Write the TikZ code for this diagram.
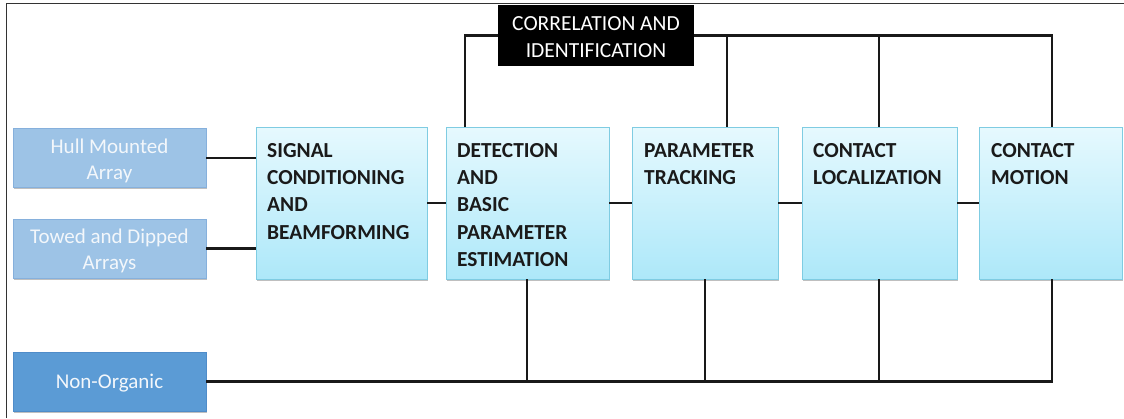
\documentclass[tikz,border=0pt]{standalone}
\usepackage{fontspec}
\setmainfont{Carlito}
\usetikzlibrary{shadows,calc}

\definecolor{srcfill}{HTML}{9DC3E6}
\definecolor{srcedge}{HTML}{86B0DC}
\definecolor{extfill}{HTML}{5B9BD5}
\definecolor{extedge}{HTML}{4F8CC9}
\definecolor{srcink}{HTML}{F3F7FB}
\definecolor{stagetop}{HTML}{E6F9FE}
\definecolor{stagebot}{HTML}{ADE8F9}
\definecolor{stageedge}{HTML}{7FCCE2}
\definecolor{stageink}{HTML}{1A1A1A}
\definecolor{framegray}{HTML}{333333}

\begin{document}
\begin{tikzpicture}[x=1pt,y=-1pt,
  boxshadow/.style={drop shadow={shadow xshift=1.2pt,shadow yshift=-1.8pt,opacity=0.25,fill=black}},
  srcbox/.style={draw=srcedge,fill=srcfill,line width=0.8pt,minimum width=193pt,
    minimum height=59pt,anchor=north west,outer sep=0pt,inner sep=0pt,boxshadow},
  extbox/.style={srcbox,draw=extedge,fill=extfill},
  srctext/.style={text=srcink,align=center,inner sep=0pt,
    font=\fontsize{21}{26}\selectfont},
  stagebox/.style={draw=stageedge,top color=stagetop,bottom color=stagebot,
    line width=0.8pt,minimum height=152pt,anchor=north west,outer sep=0pt,
    inner sep=0pt,boxshadow},
  stagetext/.style={anchor=north west,align=left,inner sep=0pt,text=stageink,
    font=\bfseries\fontsize{21.4}{27.3}\selectfont},
  hubbox/.style={fill=black,draw=black,minimum width=195pt,minimum height=60pt,
    anchor=north west,outer sep=0pt,inner sep=0pt},
  hubtext/.style={text=white,align=center,inner sep=0pt,
    font=\fontsize{21.5}{26.5}\selectfont},
  link/.style={line width=2.8pt,draw=black!90},
  frameline/.style={line width=1.3pt,draw=framegray}
]
\useasboundingbox (0,0) rectangle (1124,418);

% outer frame (top and left edges)
\draw[frameline] (6.5,418) -- (6.5,3.5) -- (1124,3.5);

% shared bus coordinates
\coordinate (tL) at (465,35.5);
\coordinate (tP) at (727,35.5);
\coordinate (tC) at (879,35.5);
\coordinate (tR) at (1052,35.5);
\coordinate (bD) at (527,381.5);
\coordinate (bP) at (705,381.5);
\coordinate (bC) at (879,381.5);
\coordinate (bR) at (1052,381.5);

% processing stages
\node[stagebox,minimum width=171pt] (sig) at (256,127) {};
\node[stagebox,minimum width=163pt] (det) at (446,127) {};
\node[stagebox,minimum width=146pt] (par) at (632,127) {};
\node[stagebox,minimum width=155pt] (loc) at (802,127) {};
\node[stagebox,minimum width=143pt] (mot) at (979,127) {};

\node[stagetext] (sigt) at ($(sig.north west)+(11,16)$) {SIGNAL\\CONDITIONING\\AND\\BEAMFORMING};
\node[stagetext] (dett) at ($(det.north west)+(11,16)$) {DETECTION\\AND\\BASIC\\PARAMETER\\ESTIMATION};
\node[stagetext] (part) at ($(par.north west)+(12,16)$) {PARAMETER\\TRACKING};
\node[stagetext] (loct) at ($(loc.north west)+(11,16)$) {CONTACT\\LOCALIZATION};
\node[stagetext] (mott) at ($(mot.north west)+(12,16)$) {CONTACT\\MOTION};

% sensor inputs
\node[srcbox] (hull) at (13,128.5) {};
\node[srcbox] (tow) at (13,219) {};
\node[extbox] (non) at (13,352.5) {};
\node[srctext] (hullt) at ($(hull.center)+(0,2.5)$) {Hull Mounted\\Array};
\node[srctext] (towt) at ($(tow.center)+(0,2.5)$) {Towed and Dipped\\Arrays};
\node[srctext] (nont) at ($(non.center)+(0,1.5)$) {Non-Organic};

% chain links
\draw[link] (hull.east) -- (sig.west |- hull.east);
\draw[link] (tow.east) -- (sig.west |- tow.east);
\draw[link] (sig.east) -- (det.west);
\draw[link] (det.east) -- (par.west);
\draw[link] (par.east) -- (loc.west);
\draw[link] (loc.east) -- (mot.west);

% upper bus to correlation
\draw[link] (det.north -| tL) -- (tL) -- (tR) -- (mot.north -| tR);
\draw[link] (tP) -- (par.north -| tP);
\draw[link] (tC) -- (loc.north -| tC);

% lower bus from non-organic
\draw[link] (non.east |- bR) -- (bR) -- (mot.south -| bR);
\draw[link] (bD) -- (det.south -| bD);
\draw[link] (bP) -- (par.south -| bP);
\draw[link] (bC) -- (loc.south -| bC);

% correlation hub
\node[hubbox] (corr) at (498.5,5) {};
\node[hubtext] (corrt) at ($(corr.center)+(0,2)$) {CORRELATION AND\\IDENTIFICATION};
\end{tikzpicture}
\end{document}
